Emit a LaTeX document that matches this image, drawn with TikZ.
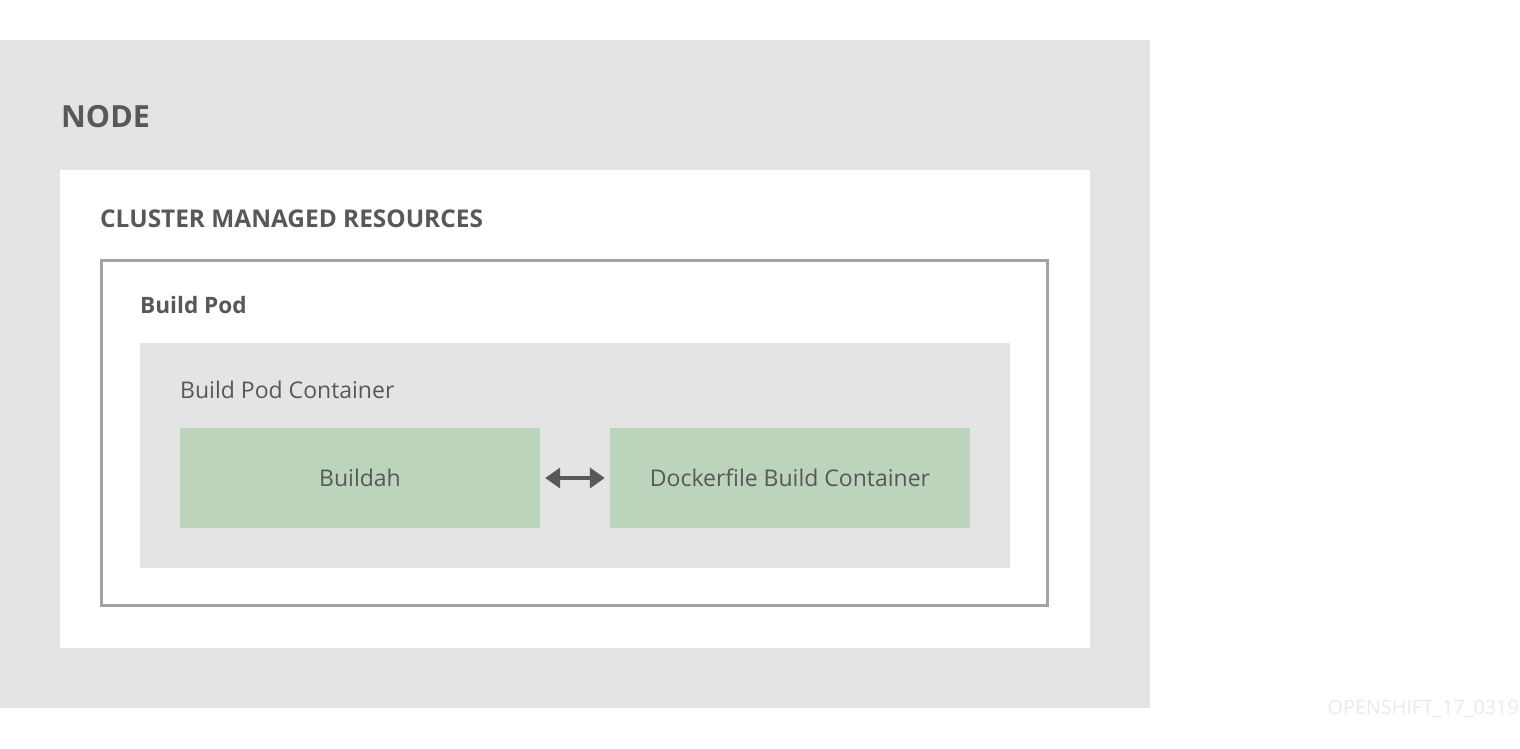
\documentclass[tikz,border=0pt]{standalone}
\usepackage{fontspec}
\setmainfont{Open Sans}
\usetikzlibrary{arrows.meta,positioning}
\definecolor{areagray}{HTML}{E4E4E4}
\definecolor{framegray}{HTML}{A3A3A3}
\definecolor{boxgreen}{HTML}{BCD4BB}
\definecolor{textgray}{HTML}{585858}
\definecolor{markgray}{HTML}{EAEAEA}

\begin{document}
\begin{tikzpicture}[x=1pt, y=-1pt,
  area/.style={anchor=north west, inner sep=0pt, outer sep=0pt},
  title/.style={anchor=base west, inner sep=0pt, text=textgray},
  greenbox/.style={fill=boxgreen, minimum width=360pt, minimum height=100pt,
    inner sep=0pt, text=textgray, font=\fontsize{23}{28}\selectfont}]
\useasboundingbox (0,0) rectangle (1520,748);

\node[area, fill=areagray, minimum width=1150pt, minimum height=668pt] (nodearea) at (0,40) {};
\node[area, fill=white, minimum width=1030pt, minimum height=478pt] (clusterarea) at (60,170) {};
\node[area, draw=framegray, line width=3pt, minimum width=946pt, minimum height=345pt] (podarea) at (101.5,260.5) {};
\node[area, fill=areagray, minimum width=870pt, minimum height=225pt] (containerarea) at (140,343) {};

\node[title, font=\fontsize{30.5}{36}\bfseries\selectfont] (nodelabel) at (61,127) {NODE};
\node[title, font=\fontsize{24.4}{30}\bfseries\selectfont] (clusterlabel) at (100,227) {CLUSTER MANAGED RESOURCES};
\node[title, font=\fontsize{22.6}{28}\bfseries\selectfont] (podlabel) at (140,313) {Build Pod};
\node[title, font=\fontsize{23}{28}\selectfont] (containerlabel) at (180,398) {Build Pod Container};

\node[greenbox] (buildah) at (360,478) {Buildah};
\node[greenbox] (dockerfile) at (790,478) {Dockerfile Build Container};
\draw[textgray, line width=4pt, {Triangle[length=15pt,width=20pt]}-{Triangle[length=15pt,width=20pt]}]
  ([xshift=5pt]buildah.east) -- ([xshift=-5pt]dockerfile.west);

\node[anchor=base east, inner sep=0pt, text=markgray, font=\fontsize{19.8}{24}\selectfont] (mark) at (1519,714) {OPENSHIFT\_17\_0319};
\end{tikzpicture}
\end{document}
